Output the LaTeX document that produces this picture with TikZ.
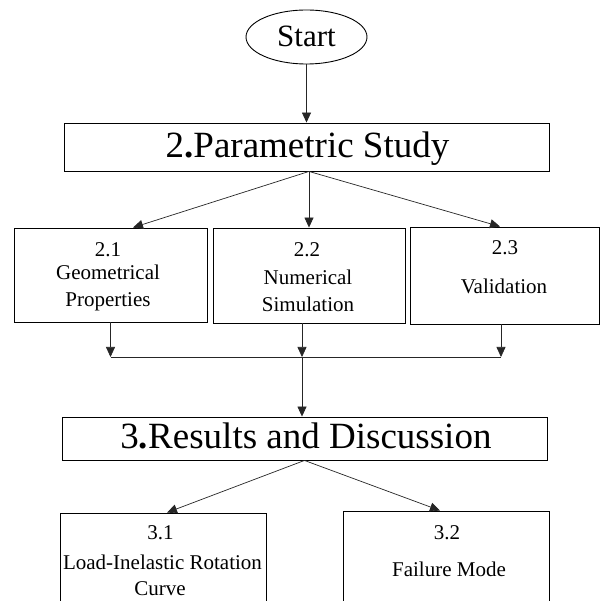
\documentclass[tikz,border=0pt]{standalone}
\usepackage{fontspec}
\setmainfont{Liberation Serif}
\usetikzlibrary{arrows.meta,calc,shapes.geometric}
\begin{document}
\begin{tikzpicture}[x=1pt,y=-1pt,
  boxnode/.style={draw, line width=0.9pt, inner sep=0pt, rectangle},
  txt/.style={anchor=base, inner sep=0pt, font=\fontsize{21}{21}\selectfont},
  bigtxt/.style={anchor=base, inner sep=0pt, font=\fontsize{37}{37}\selectfont},
  conn/.style={line width=0.7pt, draw=black!85},
  arr/.style={conn, -{Triangle[length=10pt,width=9pt]}}]
\clip (0,0) rectangle (603,601);
\fill[white] (0,0) rectangle (603,601);
% nodes
\node[draw, line width=0.9pt, ellipse, minimum width=121pt, minimum height=54pt, inner sep=0pt] (start) at (306.5,37) {};
\node[anchor=base, inner sep=0pt, font=\fontsize{31}{31}\selectfont] (tstart) at (306.5,47) {Start};
\node[boxnode, minimum width=485pt, minimum height=48pt] (param) at (306.5,147) {};
\node[bigtxt] (tparam) at (307.5,158) {2\textbf{.}Parametric Study};
\node[boxnode, minimum width=193pt, minimum height=94pt] (b21) at (110.5,275) {};
\node[boxnode, minimum width=192pt, minimum height=95pt] (b22) at (309,275.5) {};
\node[boxnode, minimum width=189pt, minimum height=97pt] (b23) at (504.5,275.5) {};
\node[txt] (t21a) at (108,257) {2.1};
\node[txt] (t21b) at (108,280) {Geometrical};
\node[txt] (t21c) at (108,307) {Properties};
\node[txt] (t22a) at (307,257) {2.2};
\node[txt] (t22b) at (308,285) {Numerical};
\node[txt] (t22c) at (308,312) {Simulation};
\node[txt] (t23a) at (505,255) {2.3};
\node[txt] (t23b) at (504,294) {Validation};
\node[boxnode, minimum width=485pt, minimum height=43pt] (res) at (304.5,438.5) {};
\node[bigtxt] (tres) at (306,449) {3\textbf{.}Results and Discussion};
\node[boxnode, minimum width=206pt, minimum height=127pt] (b31) at (163,576.5) {};
\node[boxnode, minimum width=206pt, minimum height=129pt] (b32) at (446,575.5) {};
\node[txt] (t31a) at (160.5,540) {3.1};
\node[txt] (t31b) at (162.5,569) {Load-Inelastic Rotation};
\node[txt] (t31c) at (160,595) {Curve};
\node[txt] (t32a) at (447,540) {3.2};
\node[txt] (t32b) at (449,577) {Failure Mode};
% connectors
\draw[arr] (start.south) -- (param.north);
\coordinate (pb) at ($(param.south)+(2.5,0)$);
\draw[arr] (pb) -- ($(b21.north)+(22.5,0)$);
\draw[arr] (pb) -- (b22.north);
\draw[arr] (pb) -- ($(b23.north)+(-4.5,0)$);
\coordinate (jm) at (302,357);
\coordinate (s22) at ($(b22.south)+(-7,0)$);
\coordinate (s23) at ($(b23.south)+(-3.5,0)$);
\draw[arr] (b21.south) -- (b21.south |- jm);
\draw[arr] (s22) -- (s22 |- jm);
\draw[arr] (s23) -- (s23 |- jm);
\draw[conn] (b21.south |- jm) -- (s23 |- jm);
\draw[arr] (jm) -- (res.north -| jm);
\draw[arr] (res.south) -- ($(b31.north)+(4,0)$);
\draw[arr] (res.south) -- ($(b32.north)+(-6,0)$);
\end{tikzpicture}
\end{document}
